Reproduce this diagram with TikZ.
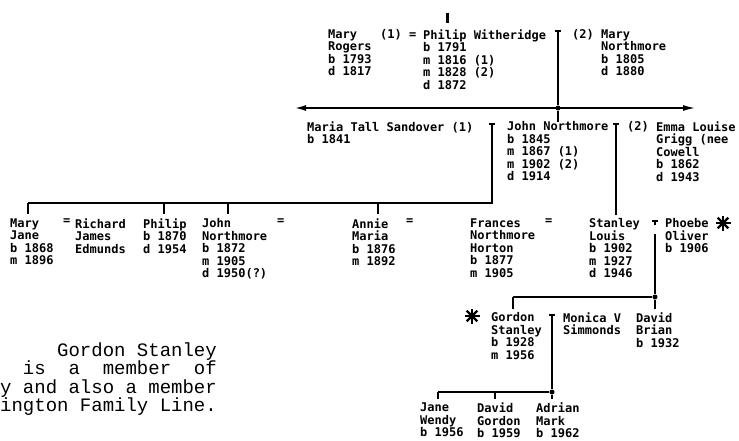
\documentclass[tikz,border=0pt]{standalone}
\usepackage{fontspec}
\usetikzlibrary{arrows.meta}
\newfontfamily\dotfont{DejaVu Sans Mono}
\newfontfamily\typefont{Liberation Mono}

\begin{document}
\begin{tikzpicture}[x=1pt,y=-1pt,
  person/.style={anchor=north west,inner sep=0pt,align=left,font=\dotfont\bfseries\fontsize{12}{12.5}\selectfont},
  tee/.style={fill,inner sep=0pt,minimum width=6pt,minimum height=1.8pt},
  jdot/.style={circle,fill,inner sep=0pt,minimum size=5pt},
  line/.style={line width=1.1pt},
  tick/.style={line width=1.1pt,shorten >=5pt},
  starmark/.style={inner sep=0pt,minimum size=17pt,path picture={
    \foreach \a in {0,45,90,135}
      \draw[line width=2.3pt] (path picture bounding box.center) ++(\a:7.5pt) -- ++(\a+180:15pt);}}]
\useasboundingbox (0,0) rectangle (739,440);

% first generation
\node[fill,inner sep=0pt,minimum width=3pt,minimum height=10pt] (topbar) at (447,18) {};
\node[person] (rogers) at (328,29.5) {Mary\\Rogers\\b 1793\\d 1817};
\node[person] (eq1) at (380,29.5) {(1) =};
\node[person] (philip) at (423,29.5) {Philip Witheridge\\b 1791\\m 1816 (1)\\m 1828 (2)\\d 1872};
\node[tee] (t1) at (558,31) {};
\node[person] (nr2) at (572,29.5) {(2)};
\node[person] (mnorth) at (601,29.5) {Mary\\Northmore\\b 1805\\d 1880};

% second generation
\node[jdot] (j1) at (558,108) {};
\coordinate (al) at (295,108);
\coordinate (ar) at (695,108);
\node[person] (maria) at (307,121.5) {Maria Tall Sandover (1)\\b 1841};
\node[tee] (t2) at (492,124) {};
\node[person] (john) at (507,121.5) {John Northmore\\b 1845\\m 1867 (1)\\m 1902 (2)\\d 1914};
\node[tee] (t3) at (616,124) {};
\node[person] (nr3) at (627,121.5) {(2)};
\node[person] (emma) at (656,121.5) {Emma Louise\\Grigg (nee\\Cowell\\b 1862\\d 1943};

\draw[line] (t1.south) -- (j1);
\draw[line width=1.4pt,{Latex[length=11pt,width=6pt]}-{Latex[length=12pt,width=6pt]}] (al) -- (ar);
\draw[line] (j1) -- (j1 |- john.north);

% third generation
\node[person] (maryj) at (10,218.5) {Mary\\Jane\\b 1868\\m 1896};
\node[person] (eq2) at (63,218.5) {=};
\node[person] (richard) at (75,218.5) {Richard\\James\\Edmunds};
\node[person] (philip2) at (143,218.5) {Philip\\b 1870\\d 1954};
\node[person] (john2) at (202,218.5) {John\\Northmore\\b 1872\\m 1905\\d 1950(?)};
\node[person] (eq3) at (277,218.5) {=};
\node[person] (annie) at (352,218.5) {Annie\\Maria\\b 1876\\m 1892};
\node[person] (eq4) at (406,218.5) {=};
\node[person] (frances) at (470,218.5) {Frances\\Northmore\\Horton\\b 1877\\m 1905};
\node[person] (eq5) at (545,218.5) {=};
\node[person] (stanley) at (589,218.5) {Stanley\\Louis\\b 1902\\m 1927\\d 1946};
\node[tee] (t4) at (655,221) {};
\node[person] (phoebe) at (665,218.5) {Phoebe\\Oliver\\b 1906};
\node[starmark] (star1) at (723,223) {};

\coordinate (kr) at (492,203);
\coordinate (kl) at (28,203);
\coordinate (k2) at (164,203);
\coordinate (k3) at (228,203);
\coordinate (k4) at (378,203);
\draw[line] (t2.south) -- (kr) -- (kl);
\foreach \k/\p in {kl/maryj,k2/philip2,k3/john2,k4/annie}
  \draw[tick] (\k) -- (\k |- \p.north);
\draw[tick,shorten >=4pt] (t3.south) -- (t3 |- stanley.north);

% fourth generation
\node[jdot] (j2) at (655,297) {};
\coordinate (g0) at (513,297);
\node[starmark] (star2) at (472,316) {};
\node[person] (gordon) at (491,312.5) {Gordon\\Stanley\\b 1928\\m 1956};
\node[tee] (t5) at (552,315) {};
\node[person] (monica) at (563,312.5) {Monica V\\Simmonds};
\node[person] (david) at (636,312.5) {David\\Brian\\b 1932};

\draw[line] (t4.south) -- ++(0,3);
\draw[line,shorten <=12pt] (t4.south) -- (j2);
\draw[line] (j2) -- (g0);
\draw[tick,shorten >=4pt] (g0) -- (g0 |- gordon.north);
\draw[tick,shorten >=4pt] (j2) -- (j2 |- david.north);

% fifth generation
\node[jdot] (j3) at (552,392) {};
\coordinate (c0) at (438,392);
\coordinate (c1) at (495,392);
\node[person] (jane) at (420,403) {Jane\\Wendy\\b 1956};
\node[person] (davidg) at (477,403) {David\\Gordon\\b 1959};
\node[person] (adrian) at (536,403) {Adrian\\Mark\\b 1962};

\draw[line] (t5.south) -- (j3) -- (c0);
\draw[tick,shorten >=4pt] (c0) -- (c0 |- jane.north);
\draw[tick,shorten >=4pt] (c1) -- (c1 |- davidg.north);
\draw[tick,shorten >=4pt] (j3) -- (j3 |- adrian.north);

% note
\node[anchor=north east,inner sep=0pt,align=right,font=\typefont\fontsize{19}{18.3}\selectfont] (note) at (217,342.5)
  {Gordon Stanley\\is\ \ a\ \ member\ \ of\\y and also a member\\ington Family Line.};

\end{tikzpicture}
\end{document}
